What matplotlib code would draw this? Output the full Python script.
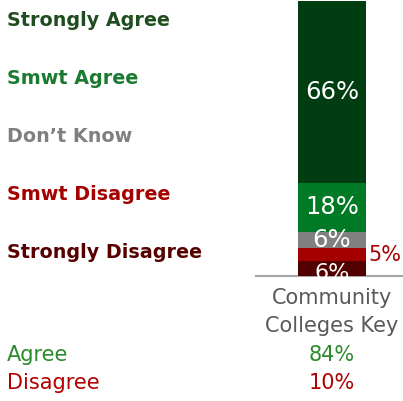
import matplotlib.pyplot as plt

categories = ["Strongly Disagree", "Smwt Disagree", "Don\u2019t Know", "Smwt Agree", "Strongly Agree"]
values = [5.5, 4.6, 6, 18, 66.4]
value_labels = ["6%", "5%", "6%", "18%", "66%"]
bar_colors = ["#520000", "#a50000", "#808080", "#007a25", "#003d10"]
text_colors = ["#560000", "#a50000", "#808080", "#1a7a30", "#1f4d1f"]
group_lines = ["Community", "Colleges Key"]
summary_names = ["Agree", "Disagree"]
summary_values = ["84%", "10%"]
summary_colors = ["#2a8a2a", "#b00000"]

W, H = 403, 401
fig = plt.figure(figsize=(W / 100, H / 100), dpi=100)
ax = fig.add_axes([256 / W, 1 - 276 / H, (W - 256) / W, 276 / H])

bottom = 0
for i, (v, c) in enumerate(zip(values, bar_colors)):
    mid = bottom + v / 2
    ax.bar(0, v, width=1, bottom=bottom, color=c, zorder=2)
    if value_labels[i] == "5%":
        ax.text(0.54, mid, value_labels[i], color="#a50000", fontsize=15,
                ha="left", va="center", zorder=3)
    elif i == 0:
        # bottom label sits low and runs over the axis line
        ax.text(0, mid - 1.5, value_labels[i], color="white", fontsize=16,
                ha="center", va="center", zorder=3)
    else:
        ax.text(0, mid, value_labels[i], color="white", fontsize=17.5,
                ha="center", va="center", zorder=3)
    bottom += v

ax.set_xlim(-1.118, 1.044)
ax.set_ylim(0, 101)
for s in ["top", "left", "right"]:
    ax.spines[s].set_visible(False)
ax.spines["bottom"].set_color("#a6a6a6")
ax.spines["bottom"].set_linewidth(1.5)
ax.spines["bottom"].set_zorder(1)
ax.set_xticks([])
ax.set_yticks([])

# left-hand category key, top to bottom
for k, (name, col) in enumerate(zip(categories[::-1], text_colors[::-1])):
    y = 20 + 58 * k
    fig.text(7 / W, 1 - y / H, name, color=col, fontsize=13.8, fontweight="bold",
             ha="left", va="center")

for k, line in enumerate(group_lines):
    y = 298 + 28 * k
    fig.text(332 / W, 1 - y / H, line, color="#595959", fontsize=15,
             ha="center", va="center")

for k, (name, val, col) in enumerate(zip(summary_names, summary_values, summary_colors)):
    y = 355 + 28 * k
    fig.text(7 / W, 1 - y / H, name, color=col, fontsize=15, ha="left", va="center")
    fig.text(332 / W, 1 - y / H, val, color=col, fontsize=15, ha="center", va="center")

fig.savefig("out.png", dpi=100)
